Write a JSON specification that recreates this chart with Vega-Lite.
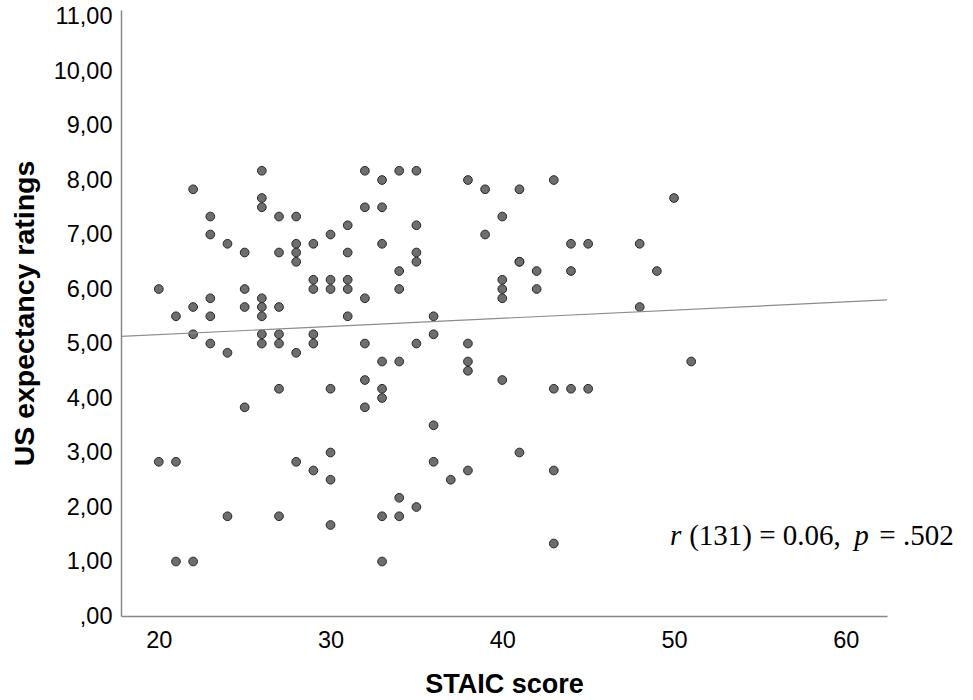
{
  "$schema": "https://vega.github.io/schema/vega-lite/v6.json",
  "width": 766,
  "height": 606,
  "autosize": {"type": "none"},
  "padding": {"left": 121, "top": 10, "right": 86, "bottom": 84},
  "background": "white",
  "config": {
    "view": {"stroke": null},
    "axis": {"grid": false, "ticks": false, "domainColor": "#888888", "domainWidth": 1.5, "labelFont": "Liberation Sans", "labelFontSize": 23.5, "labelColor": "#000000", "titleFont": "Liberation Sans", "titleFontWeight": "bold", "titleColor": "#000000"}
  },
  "datasets": {
    "points": [
      {"staic": 26, "rating": 8.17}, {"staic": 32, "rating": 8.17}, {"staic": 22, "rating": 7.83}, {"staic": 26, "rating": 7.67},
      {"staic": 26, "rating": 7.5}, {"staic": 32, "rating": 7.5}, {"staic": 23, "rating": 7.33}, {"staic": 27, "rating": 7.33},
      {"staic": 28, "rating": 7.33}, {"staic": 31, "rating": 7.17}, {"staic": 23, "rating": 7.0}, {"staic": 30, "rating": 7.0},
      {"staic": 24, "rating": 6.83}, {"staic": 28, "rating": 6.83}, {"staic": 28, "rating": 6.67}, {"staic": 28, "rating": 6.5},
      {"staic": 29, "rating": 6.83}, {"staic": 25, "rating": 6.67}, {"staic": 27, "rating": 6.67}, {"staic": 31, "rating": 6.67},
      {"staic": 20, "rating": 6.0}, {"staic": 25, "rating": 6.0}, {"staic": 29, "rating": 6.17}, {"staic": 29, "rating": 6.0},
      {"staic": 30, "rating": 6.17}, {"staic": 30, "rating": 6.0}, {"staic": 31, "rating": 6.17}, {"staic": 31, "rating": 6.0},
      {"staic": 23, "rating": 5.83}, {"staic": 26, "rating": 5.83}, {"staic": 26, "rating": 5.67}, {"staic": 26, "rating": 5.5},
      {"staic": 32, "rating": 5.83}, {"staic": 21, "rating": 5.5}, {"staic": 22, "rating": 5.67}, {"staic": 23, "rating": 5.5},
      {"staic": 25, "rating": 5.67}, {"staic": 27, "rating": 5.67}, {"staic": 31, "rating": 5.5}, {"staic": 22, "rating": 5.17},
      {"staic": 26, "rating": 5.17}, {"staic": 26, "rating": 5.0}, {"staic": 27, "rating": 5.17}, {"staic": 27, "rating": 5.0},
      {"staic": 29, "rating": 5.17}, {"staic": 29, "rating": 5.0}, {"staic": 23, "rating": 5.0}, {"staic": 24, "rating": 4.83},
      {"staic": 28, "rating": 4.83}, {"staic": 32, "rating": 5.0}, {"staic": 27, "rating": 4.17}, {"staic": 30, "rating": 4.17},
      {"staic": 32, "rating": 4.33}, {"staic": 25, "rating": 3.83}, {"staic": 32, "rating": 3.83}, {"staic": 20, "rating": 2.83},
      {"staic": 21, "rating": 2.83}, {"staic": 28, "rating": 2.83}, {"staic": 29, "rating": 2.67}, {"staic": 30, "rating": 3.0},
      {"staic": 30, "rating": 2.5}, {"staic": 24, "rating": 1.83}, {"staic": 27, "rating": 1.83}, {"staic": 30, "rating": 1.67},
      {"staic": 21, "rating": 1.0}, {"staic": 22, "rating": 1.0}, {"staic": 33, "rating": 8.0}, {"staic": 34, "rating": 8.17},
      {"staic": 35, "rating": 8.17}, {"staic": 33, "rating": 7.5}, {"staic": 35, "rating": 7.17}, {"staic": 33, "rating": 6.83},
      {"staic": 35, "rating": 6.67}, {"staic": 35, "rating": 6.5}, {"staic": 34, "rating": 6.33}, {"staic": 34, "rating": 6.0},
      {"staic": 36, "rating": 5.5}, {"staic": 36, "rating": 5.17}, {"staic": 35, "rating": 5.0}, {"staic": 33, "rating": 4.67},
      {"staic": 34, "rating": 4.67}, {"staic": 33, "rating": 4.17}, {"staic": 33, "rating": 4.0}, {"staic": 38, "rating": 8.0},
      {"staic": 39, "rating": 7.83}, {"staic": 41, "rating": 7.83}, {"staic": 43, "rating": 8.0}, {"staic": 40, "rating": 7.33},
      {"staic": 39, "rating": 7.0}, {"staic": 44, "rating": 6.83}, {"staic": 45, "rating": 6.83}, {"staic": 41, "rating": 6.5},
      {"staic": 41, "rating": 6.5}, {"staic": 42, "rating": 6.33}, {"staic": 44, "rating": 6.33}, {"staic": 40, "rating": 6.17},
      {"staic": 40, "rating": 6.0}, {"staic": 40, "rating": 5.83}, {"staic": 42, "rating": 6.0}, {"staic": 38, "rating": 5.0},
      {"staic": 38, "rating": 4.67}, {"staic": 38, "rating": 4.5}, {"staic": 40, "rating": 4.33}, {"staic": 43, "rating": 4.17},
      {"staic": 44, "rating": 4.17}, {"staic": 45, "rating": 4.17}, {"staic": 50, "rating": 7.67}, {"staic": 48, "rating": 6.83},
      {"staic": 49, "rating": 6.33}, {"staic": 48, "rating": 5.67}, {"staic": 51, "rating": 4.67}, {"staic": 36, "rating": 3.5},
      {"staic": 36, "rating": 2.83}, {"staic": 37, "rating": 2.5}, {"staic": 38, "rating": 2.67}, {"staic": 34, "rating": 2.17},
      {"staic": 35, "rating": 2.0}, {"staic": 33, "rating": 1.83}, {"staic": 34, "rating": 1.83}, {"staic": 33, "rating": 1.0},
      {"staic": 41, "rating": 3.0}, {"staic": 43, "rating": 2.67}, {"staic": 43, "rating": 1.33}
    ],
    "fit": [
      {"staic": 17.8, "rating": 5.13},
      {"staic": 62.4, "rating": 5.80}
    ],
    "annot": [
      {"staic": 49.77, "rating": 1.30, "label": "r", "part": "italic"},
      {"staic": 50.88, "rating": 1.30, "label": "(131) = 0.06,", "part": "normal"},
      {"staic": 60.49, "rating": 1.30, "label": "p", "part": "italic"},
      {"staic": 61.95, "rating": 1.30, "label": "= .502", "part": "normal"}
    ]
  },
  "encoding": {
    "x": {
      "field": "staic", "type": "quantitative", "title": "STAIC score",
      "scale": {"domain": [17.8, 62.4], "nice": false, "zero": false},
      "axis": {"values": [20, 30, 40, 50, 60], "labelPadding": 12, "titleFontSize": 27, "titlePadding": 20}
    },
    "y": {
      "field": "rating", "type": "quantitative", "title": "US expectancy ratings",
      "scale": {"domain": [0, 11.12], "nice": false},
      "axis": {
        "values": [0, 1, 2, 3, 4, 5, 6, 7, 8, 9, 10, 11],
        "labelExpr": "datum.value == 0 ? ',00' : replace(format(datum.value, '.2f'), '.', ',')",
        "labelPadding": 9, "titleFontSize": 28.5, "titlePadding": 14
      }
    }
  },
  "layer": [
    {
      "data": {"name": "points"},
      "mark": {"type": "circle", "size": 76, "fill": "#6e6e6e", "stroke": "#262626", "strokeWidth": 1, "opacity": 1}
    },
    {
      "data": {"name": "fit"},
      "mark": {"type": "line", "color": "#8c8c8c", "strokeWidth": 1.2}
    },
    {
      "data": {"name": "annot"},
      "transform": [{"filter": "datum.part == 'normal'"}],
      "mark": {"type": "text", "font": "Liberation Serif", "fontSize": 29, "align": "left", "baseline": "alphabetic", "color": "#000000"},
      "encoding": {"text": {"field": "label"}}
    },
    {
      "data": {"name": "annot"},
      "transform": [{"filter": "datum.part == 'italic'"}],
      "mark": {"type": "text", "font": "Liberation Serif", "fontSize": 29, "fontStyle": "italic", "align": "left", "baseline": "alphabetic", "color": "#000000"},
      "encoding": {"text": {"field": "label"}}
    }
  ]
}
